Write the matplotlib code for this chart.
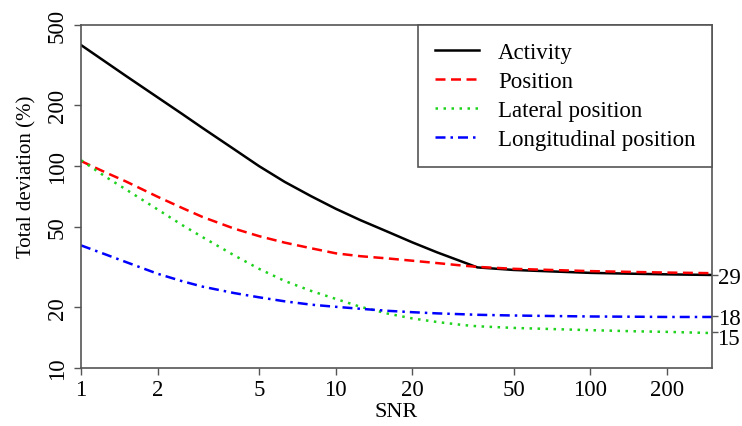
import matplotlib
matplotlib.use("Agg")
import matplotlib.pyplot as plt
from matplotlib.ticker import FixedLocator, NullLocator, FixedFormatter

plt.rcParams['font.family'] = ['Liberation Serif', 'DejaVu Serif']

# SNR sweep and the total deviation (%) of each estimate
snr = [1, 1.25, 1.5, 2, 2.5, 3, 4, 5, 6.3, 8, 10, 12.5, 16, 20, 25, 32, 36,
       50, 70, 100, 150, 200, 300]
activity = [398, 328, 280, 219, 181, 154.5, 121, 100, 83.6, 71, 61.5, 54, 47.3, 41.9, 37.4, 33.3, 31.5,
            30.6, 30.1, 29.6, 29.3, 29.1, 28.9]
position = [106, 93, 84, 70.5, 62, 56, 49, 45, 41.8, 39.2, 37, 35.8, 34.9, 34.0, 33.1, 32.1, 31.7,
            31.0, 30.6, 30.2, 29.9, 29.7, 29.5]
lateral = [107, 88.5, 76.7, 61, 51, 44.5, 36.1, 31.0, 27.0, 24.1, 22.0, 20.1, 18.6, 17.6, 16.9, 16.3, 16.1,
           15.8, 15.6, 15.4, 15.2, 15.1, 14.9]
longitudinal = [40.5, 36.5, 33.5, 29.3, 26.9, 25.3, 23.5, 22.4, 21.4, 20.6, 20.1, 19.65, 19.2, 18.9, 18.65, 18.45, 18.35,
                18.2, 18.1, 18.0, 17.95, 17.9, 17.9]

x_ticks = [1, 2, 5, 10, 20, 50, 100, 200]
y_ticks = [10, 20, 50, 100, 200, 500]
end_ticks = [15, 18, 29]

fig = plt.figure(figsize=(7.42, 4.27), dpi=100)
ax = fig.add_axes([0.1092, 0.1358, 0.8504, 0.8032])

lw = 1.8
ax.plot(snr, activity, color="black", lw=lw, label="Activity")
ax.plot(snr, position, color="#ff0000", lw=lw, linestyle=(0, (4, 2.2)), label="Position")
ax.plot(snr, lateral, color="#1ed21e", lw=lw, linestyle=(0, (1, 2.2)), label="Lateral position")
ax.plot(snr, longitudinal, color="#0000ff", lw=lw, linestyle=(0, (4, 2, 1, 2)), label="Longitudinal position")

ax.set_xscale("log")
ax.set_yscale("log")
ax.set_xlim(1, 300)
ax.set_ylim(10, 500)

ax.xaxis.set_major_locator(FixedLocator(x_ticks))
ax.xaxis.set_major_formatter(FixedFormatter([str(v) for v in x_ticks]))
ax.xaxis.set_minor_locator(NullLocator())
ax.yaxis.set_major_locator(FixedLocator(y_ticks))
ax.yaxis.set_major_formatter(FixedFormatter([str(v) for v in y_ticks]))
ax.yaxis.set_minor_locator(NullLocator())

frame_col = "#555555"
for s in ax.spines.values():
    s.set_color(frame_col)
    s.set_linewidth(1.2)
ax.tick_params(axis="both", length=5, width=1, color=frame_col, labelsize=16.5)
ax.tick_params(axis="x", pad=3)
ax.tick_params(axis="y", pad=4.5)
for t in ax.get_yticklabels():
    t.set_rotation(90)
    t.set_va("center")

ax.set_xlabel("SNR", fontsize=16, labelpad=1)
ax.set_ylabel("Total deviation (%)", fontsize=15)
ax.yaxis.set_label_coords(-0.07, 0.56)

# final values marked on the right-hand axis
ax2 = ax.twinx()
ax2.set_yscale("log")
ax2.set_ylim(ax.get_ylim())
ax2.yaxis.set_major_locator(FixedLocator(end_ticks))
ax2.yaxis.set_major_formatter(FixedFormatter(["", "18", "29"]))
ax2.yaxis.set_minor_locator(NullLocator())
ax2.tick_params(axis="y", length=4, width=1, color=frame_col, labelsize=16.5, pad=0.5)
for s in ax2.spines.values():
    s.set_visible(False)
# the 15 label sits a little below its tick so it clears the 18
ax2.annotate("15", xy=(1, end_ticks[0]), xycoords=("axes fraction", "data"),
             xytext=(3.6, -4), textcoords="offset points",
             ha="left", va="center", fontsize=16.5)

leg = ax.legend(loc="upper right", bbox_to_anchor=(1, 1), borderaxespad=0,
                fancybox=False, fontsize=16.5, handlelength=1.92, handletextpad=0.85,
                labelspacing=0.36, borderpad=0.72)
leg.get_frame().set_edgecolor(frame_col)
leg.get_frame().set_linewidth(1.2)
leg.get_frame().set_alpha(1)
leg.set_zorder(5)

fig.savefig("out.png", dpi=100)
